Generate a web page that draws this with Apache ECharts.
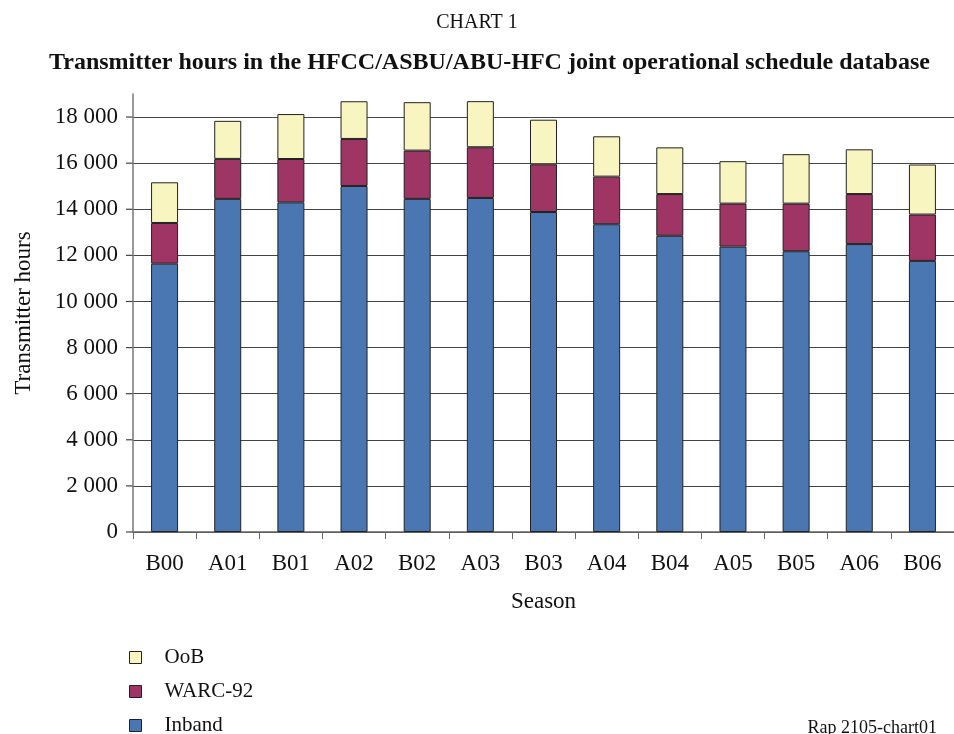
<!DOCTYPE html>
<html>
<head>
<meta charset="utf-8">
<script src="https://cdn.jsdelivr.net/npm/echarts@6/dist/echarts.min.js"></script>
<style>
  html, body { margin: 0; padding: 0; background: #fff; }
  #chart { width: 954px; height: 734px; }
</style>
</head>
<body>
<div id="chart"></div>
<script>
var seasons = ['B00', 'A01', 'B01', 'A02', 'B02', 'A03', 'B03', 'A04', 'B04', 'A05', 'B05', 'A06', 'B06'];
var inband = [11640, 14450, 14300, 15010, 14450, 14490, 13880, 13350, 12850, 12380, 12180, 12490, 11760];
var warc92 = [1765, 1735, 1880, 2040, 2095, 2200, 2070, 2065, 1810, 1865, 2065, 2170, 2010];
var oob = [1765, 1650, 1950, 1635, 2100, 2000, 1935, 1750, 2025, 1840, 2145, 1940, 2170];
var legendNames = ['OoB', 'WARC-92', 'Inband'];

var serif = '"Liberation Serif", "DejaVu Serif", serif';
var chart = echarts.init(document.getElementById('chart'));

function bar(name, data, color) {
    return {
        name: name,
        type: 'bar',
        stack: 'total',
        data: data,
        barWidth: 27,
        itemStyle: { color: color, borderColor: '#222', borderWidth: 1 }
    };
}

// one legend per entry so they stack like the original
var legends = legendNames.map(function (n, i) {
    return {
        orient: 'vertical',
        left: 124, top: 642 + i * 34,
        itemWidth: 12, itemHeight: 12,
        icon: 'rect',
        data: [n],
        textStyle: { fontFamily: serif, fontSize: 21, color: '#111', padding: [0, 0, 0, 18] },
        itemStyle: { borderColor: '#222', borderWidth: 1 }
    };
});

var option = {
    animation: false,
    title: [
        {
            text: 'CHART 1',
            left: 'center', top: 8,
            textStyle: { fontFamily: serif, fontSize: 20, fontWeight: 'normal', color: '#111' }
        },
        {
            text: 'Transmitter hours in the HFCC/ASBU/ABU-HFC joint operational schedule database',
            left: 44, top: 46,
            textStyle: { fontFamily: serif, fontSize: 24, fontWeight: 'bold', color: '#111' }
        },
        {
            text: 'Rap 2105-chart01',
            right: 12, top: 714,
            textStyle: { fontFamily: serif, fontSize: 18, fontWeight: 'normal', color: '#111' }
        }
    ],
    legend: legends,
    grid: { left: 133, top: 94, width: 830, height: 438 },
    xAxis: {
        type: 'category',
        data: seasons,
        name: 'Season',
        nameLocation: 'middle',
        nameGap: 58,
        nameTextStyle: { fontFamily: serif, fontSize: 23, color: '#111' },
        axisLine: { lineStyle: { color: '#666', width: 1.5 } },
        axisTick: { show: true, length: 7, alignWithLabel: false, lineStyle: { color: '#666' } },
        axisLabel: { fontFamily: serif, fontSize: 23, color: '#111', margin: 20 }
    },
    yAxis: {
        type: 'value',
        min: 0, max: 19000, interval: 1000,
        name: 'Transmitter hours',
        nameLocation: 'middle',
        nameGap: 98,
        nameTextStyle: { fontFamily: serif, fontSize: 23, color: '#111' },
        axisLine: { show: true, lineStyle: { color: '#777', width: 1.5 } },
        axisTick: { show: false },
        axisLabel: {
            fontFamily: serif, fontSize: 23, color: '#111', margin: 15,
            formatter: function (v) {
                if (v % 2000 !== 0 || v > 18000) return '';
                return v >= 1000 ? Math.floor(v / 1000) + ' ' + String(v % 1000).padStart(3, '0') : String(v);
            }
        },
        splitLine: { show: true, lineStyle: { color: ['#444', 'rgba(0,0,0,0)'], width: 1.2 } }
    },
    series: [
        bar('Inband', inband, '#4a76b1'),
        bar('WARC-92', warc92, '#9e3564'),
        bar('OoB', oob, '#f8f5c0')
    ]
};
chart.setOption(option);

// small ticks on the y axis at the gridline levels (left of axis line)
chart.setOption({
    graphic: [0, 2000, 4000, 6000, 8000, 10000, 12000, 14000, 16000, 18000].map(function (v) {
        var p = chart.convertToPixel({ yAxisIndex: 0 }, v);
        return { type: 'line', shape: { x1: 126, y1: p, x2: 133, y2: p }, style: { stroke: '#444', lineWidth: 1.2 } };
    })
});
</script>
</body>
</html>
